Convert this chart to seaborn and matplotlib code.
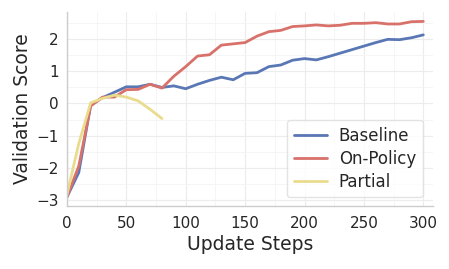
import numpy as np
import pandas as pd
import seaborn as sns
import matplotlib
matplotlib.use("Agg")
import matplotlib.pyplot as plt
from matplotlib.ticker import AutoMinorLocator

steps = [0, 10, 20, 30, 40, 50, 60, 70, 80, 90, 100, 110, 120, 130, 140, 150,
         160, 170, 180, 190, 200, 210, 220, 230, 240, 250, 260, 270, 280, 290, 300]
baseline = [-2.92, -2.15, -0.05, 0.18, 0.35, 0.52, 0.52, 0.60, 0.50, 0.55, 0.46,
            0.60, 0.72, 0.82, 0.74, 0.94, 0.96, 1.15, 1.20, 1.35, 1.40, 1.36,
            1.46, 1.57, 1.68, 1.79, 1.90, 2.00, 1.99, 2.05, 2.14]
on_policy = [-2.92, -1.95, -0.08, 0.20, 0.20, 0.43, 0.44, 0.60, 0.48, 0.85, 1.15,
             1.48, 1.52, 1.82, 1.86, 1.90, 2.10, 2.24, 2.28, 2.40, 2.42, 2.45,
             2.42, 2.44, 2.50, 2.50, 2.52, 2.48, 2.48, 2.55, 2.56]
partial_steps = [0, 10, 20, 30, 40, 50, 60, 70, 80]
partial = [-2.85, -1.25, 0.02, 0.16, 0.26, 0.20, 0.08, -0.18, -0.47]

series_names = ["Baseline", "On-Policy", "Partial"]
colors = ["#5a77b5", "#d9716b", "#e9dc8e"]

df = pd.concat([
    pd.DataFrame({"step": steps, "score": baseline, "method": "Baseline"}),
    pd.DataFrame({"step": steps, "score": on_policy, "method": "On-Policy"}),
    pd.DataFrame({"step": partial_steps, "score": partial, "method": "Partial"}),
])

sns.set_theme(style="whitegrid")
plt.rcParams["font.family"] = ["DejaVu Sans"]

fig = plt.figure(figsize=(4.49, 2.69), dpi=100)
ax = fig.add_axes([0.149, 0.235, 0.815, 0.72])

sns.lineplot(data=df, x="step", y="score", hue="method", hue_order=series_names,
             palette=colors, linewidth=2.0, ax=ax)

ax.set_xlim(0, 308)
ax.set_ylim(-3.19, 2.85)
ax.set_xticks([0, 50, 100, 150, 200, 250, 300])
ax.set_yticks([-3, -2, -1, 0, 1, 2])
ax.xaxis.set_minor_locator(AutoMinorLocator(2))
ax.yaxis.set_minor_locator(AutoMinorLocator(2))
ax.grid(which="major", color="#ececec", linewidth=0.8)
ax.grid(which="minor", color="#f4f4f4", linewidth=0.6)
ax.tick_params(axis="x", which="both", length=0, labelsize=11, colors="#262626", pad=7.5)
ax.tick_params(axis="y", which="both", length=0, labelsize=11, colors="#262626", pad=6)

ax.set_xlabel("Update Steps", fontsize=13.5, color="#262626", labelpad=3)
ax.set_ylabel("Validation Score", fontsize=13.5, color="#262626", labelpad=3)

for s in ["top", "right"]:
    ax.spines[s].set_visible(False)
for s in ["left", "bottom"]:
    ax.spines[s].set_color("#cccccc")
    ax.spines[s].set_linewidth(1.0)

leg = ax.legend(loc="lower right", fontsize=12, frameon=True, handlelength=2.0,
                labelspacing=0.3, handletextpad=0.7, borderaxespad=0.5,
                bbox_to_anchor=(0.995, 0.0))
leg.get_frame().set_edgecolor("#dddddd")
for line in leg.get_lines():
    line.set_linewidth(2.0)

fig.savefig("out.png", dpi=100)
